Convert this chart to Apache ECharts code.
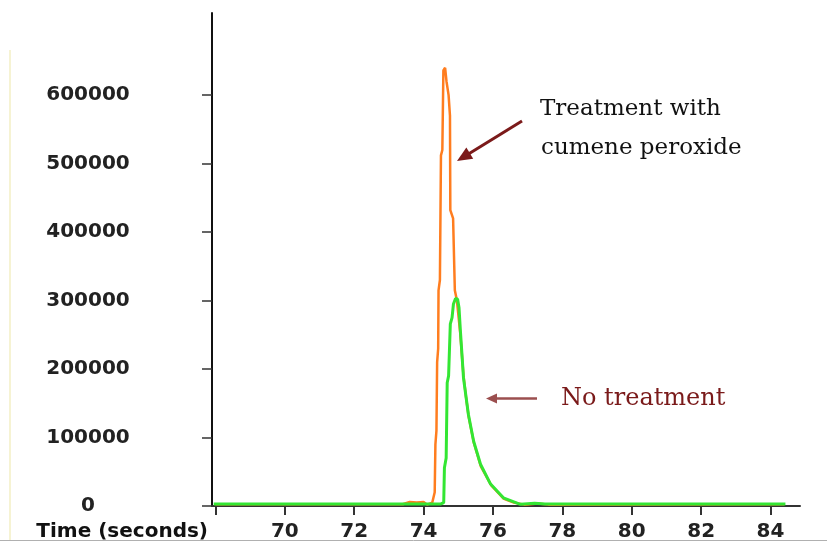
<!DOCTYPE html>
<html>
<head>
<meta charset="utf-8">
<style>
  html, body { margin: 0; padding: 0; background: #ffffff; }
  #chart { width: 827px; height: 542px; }
</style>
<script src="https://cdn.jsdelivr.net/npm/echarts@6/dist/echarts.min.js"></script>
</head>
<body>
<div id="chart"></div>
<script>
// Retention time (s) and signal intensity for each run
const treatedTime = [68, 73.4, 73.6, 73.8, 74.0, 74.1, 74.25, 74.32, 74.34, 74.37, 74.39, 74.42, 74.43, 74.47, 74.50, 74.54, 74.57, 74.62, 74.66, 74.72, 74.76, 74.77, 74.85, 74.90, 74.96, 75.06, 75.15, 75.22, 75.30, 75.45, 75.65, 75.95, 76.30, 76.60, 76.90, 77.30, 77.60, 84.40];
const treatedSignal = [2500, 2500, 6000, 5000, 6000, 2000, 5000, 20000, 90000, 110000, 210000, 230000, 315000, 330000, 512000, 520000, 636000, 640000, 620000, 600000, 570000, 432000, 420000, 315000, 300000, 250000, 190000, 160000, 130000, 92000, 58000, 30000, 11000, 5000, 2000, 3500, 2000, 2500];

const untreatedTime = [67.95, 74.50, 74.58, 74.60, 74.65, 74.68, 74.72, 74.77, 74.82, 74.86, 74.92, 74.98, 75.02, 75.06, 75.15, 75.20, 75.29, 75.44, 75.64, 75.93, 76.30, 76.79, 77.20, 77.50, 84.43];
const untreatedSignal = [3000, 3000, 5000, 56000, 70000, 180000, 190000, 266000, 275000, 295000, 303000, 302000, 290000, 256000, 187000, 168000, 134000, 95000, 61000, 32000, 12000, 2500, 4000, 3000, 3000];

// Axis ticks and labels
const timeTicks = [68, 70, 72, 74, 76, 78, 80, 82, 84];
const timeLabels = [70, 72, 74, 76, 78, 80, 82, 84];
const signalTicks = [0, 100000, 200000, 300000, 400000, 500000, 600000];

const treatedName = ['Treatment with', 'cumene peroxide'];
const untreatedName = 'No treatment';

function pairs(xs, ys) { return xs.map((x, i) => [x, ys[i]]); }

// Straight arrow: shaft plus a filled triangular head at the end point
function arrow(x1, y1, x2, y2, color, width, headLen, headHalf) {
  const dx = x2 - x1, dy = y2 - y1;
  const len = Math.sqrt(dx * dx + dy * dy);
  const ux = dx / len, uy = dy / len;
  const bx = x2 - ux * headLen, by = y2 - uy * headLen;
  const px = -uy, py = ux;
  return [
    { type: 'line', shape: { x1: x1, y1: y1, x2: bx + ux * 2, y2: by + uy * 2 },
      style: { stroke: color, lineWidth: width }, z: 10 },
    { type: 'polygon',
      shape: { points: [[x2, y2], [bx + px * headHalf, by + py * headHalf], [bx - px * headHalf, by - py * headHalf]] },
      style: { fill: color }, z: 10 }
  ];
}

const chart = echarts.init(document.getElementById('chart'), null, { renderer: 'canvas' });

const labelFont = 'DejaVu Sans';

chart.setOption({
  animation: false,
  backgroundColor: '#ffffff',
  grid: { left: 212, right: 27, top: 13, bottom: 36 },
  xAxis: {
    type: 'value',
    min: 67.9,
    max: 84.85,
    name: 'Time (seconds)',
    nameLocation: 'start',
    nameGap: 4,
    nameTextStyle: {
      fontFamily: labelFont, fontWeight: 'bold', fontSize: 20, color: '#111',
      align: 'right', verticalAlign: 'top', padding: [16, 0, 0, 0]
    },
    axisLine: { show: true, onZero: false, lineStyle: { color: '#333', width: 2 } },
    axisTick: { show: true, customValues: timeTicks, length: 9, lineStyle: { color: '#333', width: 2 } },
    axisLabel: {
      customValues: timeLabels, margin: 16,
      fontFamily: labelFont, fontWeight: 'bold', fontSize: 20, color: '#222'
    },
    splitLine: { show: false }
  },
  yAxis: {
    type: 'value',
    min: 0,
    max: 720000,
    axisLine: { show: true, lineStyle: { color: '#111', width: 2 } },
    axisTick: { show: true, customValues: signalTicks, length: 10, lineStyle: { color: '#333', width: 1.5 } },
    axisLabel: {
      customValues: signalTicks, margin: 124, align: 'center',
      formatter: v => String(v),
      fontFamily: labelFont, fontWeight: 'bold', fontSize: 20, color: '#222'
    },
    splitLine: { show: false }
  },
  series: [
    {
      name: treatedName.join(' '),
      type: 'line',
      data: pairs(treatedTime, treatedSignal),
      symbol: 'none',
      lineStyle: { color: '#ff7d1f', width: 2.5 },
      z: 2
    },
    {
      name: untreatedName,
      type: 'line',
      data: pairs(untreatedTime, untreatedSignal),
      symbol: 'none',
      lineStyle: { color: '#33e633', width: 3 },
      z: 3
    }
  ],
  graphic: [
    // faint frame edges
    { type: 'line', shape: { x1: 10, y1: 50, x2: 10, y2: 540 }, style: { stroke: '#f3efc4', lineWidth: 1.5 } },
    { type: 'line', shape: { x1: 0, y1: 540.5, x2: 827, y2: 540.5 }, style: { stroke: '#b0b0b0', lineWidth: 1 } },
    ...arrow(522, 121, 457, 161, '#7b1a1a', 3, 15, 6.5),
    ...arrow(537, 398.5, 486, 398.5, '#9b4f4f', 2.5, 11, 5),
    {
      type: 'text', left: 540, top: 98, z: 10,
      style: { text: treatedName[0], fontFamily: 'DejaVu Serif', fontSize: 23, fill: '#111' }
    },
    {
      type: 'text', left: 541, top: 137, z: 10,
      style: { text: treatedName[1], fontFamily: 'DejaVu Serif', fontSize: 23, fill: '#111' }
    },
    {
      type: 'text', left: 561, top: 387, z: 10,
      style: { text: untreatedName, fontFamily: 'DejaVu Serif', fontSize: 24, fill: '#7a1a1a' }
    }
  ]
});
</script>
</body>
</html>
